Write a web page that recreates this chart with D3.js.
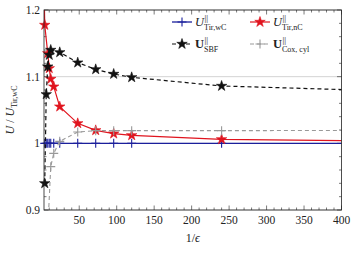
<!DOCTYPE html>
<html>
<head>
<meta charset="utf-8">
<script src="https://cdn.jsdelivr.net/npm/d3@7"></script>
<style>
  body { margin: 0; background: #fff; }
  text { font-family: "Liberation Serif", "DejaVu Serif", serif; fill: #222; }
</style>
</head>
<body>
<svg id="chart"></svg>
<script>
// tick labels
var xTicks = [50, 100, 150, 200, 250, 300, 350, 400];
var yTicks = [0.9, 1.0, 1.1, 1.2];
var yTickLabels = ["0.9", "1", "1.1", "1.2"];

// series (1/eps, U / U_Tir,wC)
var xWc = [2, 4, 6, 8, 10, 12, 16, 24, 48, 72, 96, 120, 240, 480];
var uWc = [1, 1, 1, 1, 1, 1, 1, 1, 1, 1, 1, 1, 1, 1];

var xNc = [2, 4, 8, 10, 12, 16, 24, 48, 72, 96, 120, 240, 480];
var uNc = [1.30, 1.1775, 1.135, 1.1125, 1.0965, 1.085, 1.055, 1.030, 1.0195, 1.0145, 1.012, 1.006, 1.003];

var xSbf = [4, 6, 8, 10, 12, 24, 48, 72, 96, 120, 240, 480];
var uSbf = [0.94, 1.0735, 1.115, 1.1325, 1.14, 1.1365, 1.121, 1.111, 1.104, 1.099, 1.086, 1.078];

var xCox = [4, 8, 12, 16, 24, 48, 72, 96, 120, 240, 480];
var uCox = [0.60, 0.87, 0.965, 0.985, 1.003, 1.017, 1.019, 1.019, 1.019, 1.019, 1.0195];

var width = 355, height = 255;
var margin = {left: 44, right: 13.5, top: 10, bottom: 45};

var svg = d3.select("#chart")
    .attr("width", width)
    .attr("height", height);

var x = d3.scaleLinear().domain([3, 400]).range([margin.left, width - margin.right]);
var y = d3.scaleLinear().domain([0.9, 1.2]).range([height - margin.bottom, margin.top]);

var x0 = x.range()[0], x1 = x.range()[1], y0 = y.range()[0], y1 = y.range()[1];

svg.append("clipPath").attr("id", "clip")
  .append("rect")
    .attr("x", x0).attr("y", y1)
    .attr("width", x1 - x0).attr("height", y0 - y1);

// grid on major y ticks
svg.append("g").selectAll("line")
    .data(yTicks)
    .join("line")
    .attr("x1", x0).attr("x2", x1)
    .attr("y1", d => y(d)).attr("y2", d => y(d))
    .attr("stroke", "#c8c8c8")
    .attr("stroke-width", 0.8);

// inward ticks on all four sides
var xMinor = d3.range(10, 401, 10).filter(d => xTicks.indexOf(d) < 0);
var yMinor = d3.range(0.92, 1.19, 0.02).filter(d => yTicks.every(t => Math.abs(t - d) > 1e-6));

var tickG = svg.append("g").attr("stroke", "#222").attr("stroke-width", 0.6);
function xTickMarks(vals, len) {
    vals.forEach(function(v) {
        tickG.append("line").attr("x1", x(v)).attr("x2", x(v)).attr("y1", y0).attr("y2", y0 - len);
        tickG.append("line").attr("x1", x(v)).attr("x2", x(v)).attr("y1", y1).attr("y2", y1 + len);
    });
}
function yTickMarks(vals, len) {
    vals.forEach(function(v) {
        tickG.append("line").attr("y1", y(v)).attr("y2", y(v)).attr("x1", x0).attr("x2", x0 + len);
        tickG.append("line").attr("y1", y(v)).attr("y2", y(v)).attr("x1", x1).attr("x2", x1 - len);
    });
}
xTickMarks(xTicks, 4.5);
xTickMarks(xMinor, 2.5);
yTickMarks(yTicks, 4.5);
yTickMarks(yMinor, 2.5);

// tick labels
svg.append("g").selectAll("text")
    .data(xTicks)
    .join("text")
    .attr("x", d => x(d))
    .attr("y", y0 + 14)
    .attr("text-anchor", "middle")
    .attr("font-size", 11.5)
    .text(d => d);

svg.append("g").selectAll("text")
    .data(yTicks)
    .join("text")
    .attr("x", x0 - 4)
    .attr("y", d => y(d) + 4)
    .attr("text-anchor", "end")
    .attr("font-size", 11.5)
    .text((d, i) => yTickLabels[i]);

// markers
function plusPath(r) { return "M" + (-r) + ",0H" + r + "M0," + (-r) + "V" + r; }
var starPath = d3.symbol(d3.symbolStar, 34)();

var series = [
    {xs: xWc, ys: uWc, color: "#1b1f9c", dash: null, mark: "plus", width: 1.3},
    {xs: xNc, ys: uNc, color: "#e0141e", dash: null, mark: "star", width: 1.2},
    {xs: xSbf, ys: uSbf, color: "#111", dash: "4,3", mark: "star", width: 1.2},
    {xs: xCox, ys: uCox, color: "#999", dash: "4,3", mark: "plus", width: 1.1}
];

var line = d3.line().x(d => x(d[0])).y(d => y(d[1]));
var plotG = svg.append("g");

series.forEach(function(s) {
    var pts = s.xs.map((v, i) => [v, s.ys[i]]);
    plotG.append("path")
        .datum(pts)
        .attr("clip-path", "url(#clip)")
        .attr("fill", "none")
        .attr("stroke", s.color)
        .attr("stroke-width", s.width)
        .attr("stroke-dasharray", s.dash)
        .attr("d", line);
    var inside = pts.filter(d => d[0] >= 3 && d[0] <= 400 && d[1] >= 0.9 && d[1] <= 1.2);
    plotG.append("g").selectAll("path")
        .data(inside)
        .join("path")
        .attr("transform", d => "translate(" + x(d[0]) + "," + y(d[1]) + ")")
        .attr("d", s.mark == "plus" ? plusPath(4.5) : starPath)
        .attr("fill", s.mark == "plus" ? "none" : s.color)
        .attr("stroke", s.color)
        .attr("stroke-width", s.mark == "plus" ? 1.1 : 0.6);
});

// frame
svg.append("rect")
    .attr("x", x0).attr("y", y1)
    .attr("width", x1 - x0).attr("height", y0 - y1)
    .attr("fill", "none")
    .attr("stroke", "#222")
    .attr("stroke-width", 0.8);

// legend
var legendItems = [
    {s: 0, sub: "Tir,wC", bold: false, lx: 172, ly: 22},
    {s: 1, sub: "Tir,nC", bold: false, lx: 250, ly: 22},
    {s: 2, sub: "SBF", bold: true, lx: 172, ly: 44},
    {s: 3, sub: "Cox, cyl", bold: true, lx: 250, ly: 44}
];
var legG = svg.append("g");
legendItems.forEach(function(it) {
    var s = series[it.s];
    legG.append("line")
        .attr("x1", it.lx).attr("x2", it.lx + 20)
        .attr("y1", it.ly).attr("y2", it.ly)
        .attr("stroke", s.color)
        .attr("stroke-width", s.width)
        .attr("stroke-dasharray", s.dash);
    legG.append("path")
        .attr("transform", "translate(" + (it.lx + 10) + "," + it.ly + ")")
        .attr("d", s.mark == "plus" ? plusPath(4.5) : starPath)
        .attr("fill", s.mark == "plus" ? "none" : s.color)
        .attr("stroke", s.color)
        .attr("stroke-width", s.mark == "plus" ? 1.1 : 0.6);
    var u = legG.append("text")
        .attr("x", it.lx + 23).attr("y", it.ly + 4)
        .attr("font-size", 12.5)
        .attr("font-style", it.bold ? "normal" : "italic")
        .attr("font-weight", it.bold ? "bold" : "normal")
        .text("U");
    var w = u.node().getComputedTextLength();
    legG.append("text")
        .attr("x", it.lx + 23 + w + 0.5).attr("y", it.ly - 1.5)
        .attr("font-size", 9)
        .text("||");
    legG.append("text")
        .attr("x", it.lx + 23 + w).attr("y", it.ly + 7.5)
        .attr("font-size", 8)
        .text(it.sub);
});

// axis labels
svg.append("text")
    .attr("x", (x0 + x1) / 2)
    .attr("y", 242)
    .attr("text-anchor", "middle")
    .attr("font-size", 12)
    .html('1/<tspan font-style="italic">ϵ</tspan>');

var yl = svg.append("text")
    .attr("transform", "translate(14," + ((y0 + y1) / 2) + ") rotate(-90)")
    .attr("text-anchor", "middle")
    .attr("font-size", 12);
yl.append("tspan").attr("font-style", "italic").text("U");
yl.append("tspan").text(" / ");
yl.append("tspan").attr("font-style", "italic").text("U");
yl.append("tspan").attr("font-size", 8).attr("dy", 3).text("Tir,wC");
</script>
</body>
</html>
